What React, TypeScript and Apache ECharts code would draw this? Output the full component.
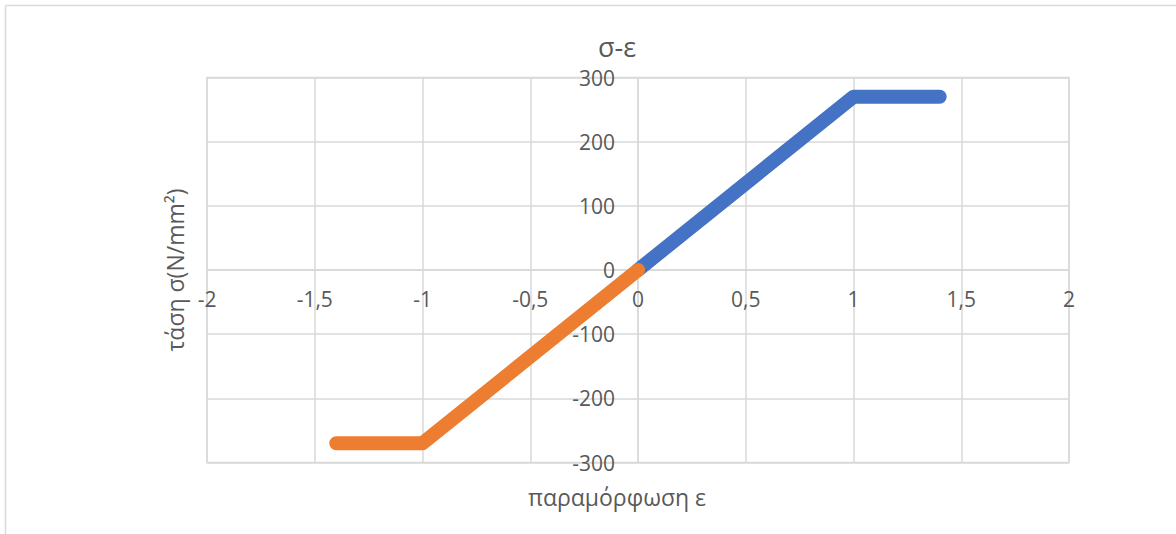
import React, { useEffect, useRef } from "react";
import * as echarts from "echarts";

// Stress–strain curve: tension branch and compression branch
const tensionStrain = [0, 1, 1.4];
const tensionStress = [0, 270, 270];
const compressionStrain = [0, -1, -1.4];
const compressionStress = [0, -270, -270];

const xTicks = { min: -2, max: 2, interval: 0.5 };
const yTicks = { min: -300, max: 300, interval: 100 };

const titleText = "σ-ε";
const xName = "παραμόρφωση ε";
const yName = "τάση σ(N/mm²)";

const FONT = "'Open Sans', 'Noto Sans', sans-serif";
const TEXT = "#595959";
const GRID = "#d9d9d9";

const W = 1176;
const H = 534;
const G = { left: 207, right: 107, top: 77.5, bottom: 71.5 };
const plotW = W - G.left - G.right;
const plotH = H - G.top - G.bottom;

// shift the axes so they cross at the origin (0, 0)
const xAxisShift = -plotH * (0 - yTicks.min) / (yTicks.max - yTicks.min);
const yAxisShift = -plotW * (0 - xTicks.min) / (xTicks.max - xTicks.min);

const pairs = (xs: number[], ys: number[]) => xs.map((x, i) => [x, ys[i]]);
const fmt = (v: number) => String(v).replace(".", ",");

export default function App() {
  const ref = useRef<HTMLDivElement>(null);

  useEffect(() => {
    if (!ref.current) return;
    const chart = echarts.init(ref.current, undefined, { renderer: "svg" });
    chart.setOption({
      animation: false,
      backgroundColor: "#ffffff",
      grid: {
        left: G.left,
        right: G.right,
        top: G.top,
        bottom: G.bottom,
        show: true,
        borderColor: GRID,
        borderWidth: 1.5,
      },
      xAxis: {
        type: "value",
        position: "bottom",
        offset: xAxisShift,
        min: xTicks.min,
        max: xTicks.max,
        interval: xTicks.interval,
        axisLine: { show: true, onZero: false, lineStyle: { color: GRID, width: 1.5 } },
        axisTick: { show: false },
        axisLabel: {
          color: TEXT,
          fontFamily: FONT,
          fontSize: 21,
          margin: 18,
          formatter: fmt,
          showMinLabel: true,
          showMaxLabel: true,
        },
        splitLine: { show: true, lineStyle: { color: GRID, width: 1.5 } },
      },
      yAxis: {
        type: "value",
        position: "left",
        offset: yAxisShift,
        min: yTicks.min,
        max: yTicks.max,
        interval: yTicks.interval,
        axisLine: { show: true, onZero: false, lineStyle: { color: GRID, width: 1.5 } },
        axisTick: { show: false },
        axisLabel: {
          color: TEXT,
          fontFamily: FONT,
          fontSize: 21,
          margin: 23,
          formatter: fmt,
          showMinLabel: true,
          showMaxLabel: true,
        },
        splitLine: { show: true, lineStyle: { color: GRID, width: 1.5 } },
      },
      graphic: [
        {
          type: "line",
          shape: { x1: 5.5, y1: 5.5, x2: 1200, y2: 5.5 },
          style: { stroke: GRID, lineWidth: 1.5 },
          silent: true,
        },
        {
          type: "line",
          shape: { x1: 5.5, y1: 5.5, x2: 5.5, y2: 600 },
          style: { stroke: GRID, lineWidth: 1.5 },
          silent: true,
        },
        {
          type: "text",
          x: 617,
          y: 46,
          style: {
            text: titleText,
            fill: TEXT,
            font: `27px ${FONT}`,
            textAlign: "center",
            textVerticalAlign: "middle",
          },
        },
        {
          type: "text",
          x: 617,
          y: 497,
          style: {
            text: xName,
            fill: TEXT,
            font: `23px ${FONT}`,
            textAlign: "center",
            textVerticalAlign: "middle",
          },
        },
        {
          type: "text",
          x: 175,
          y: 270,
          rotation: Math.PI / 2,
          style: {
            text: yName,
            fill: TEXT,
            font: `23px ${FONT}`,
            textAlign: "center",
            textVerticalAlign: "middle",
          },
        },
      ],
      series: [
        {
          type: "line",
          data: pairs(tensionStrain, tensionStress),
          showSymbol: false,
          color: "#4472C4",
          lineStyle: { width: 14, cap: "round", join: "round", color: "#4472C4" },
        },
        {
          type: "line",
          data: pairs(compressionStrain, compressionStress),
          showSymbol: false,
          color: "#ED7D31",
          lineStyle: { width: 14, cap: "round", join: "round", color: "#ED7D31" },
        },
      ],
    });
    return () => chart.dispose();
  }, []);

  return (
    <div
      ref={ref}
      style={{ position: "fixed", left: 0, top: 0, width: W, height: H }}
    />
  );
}
